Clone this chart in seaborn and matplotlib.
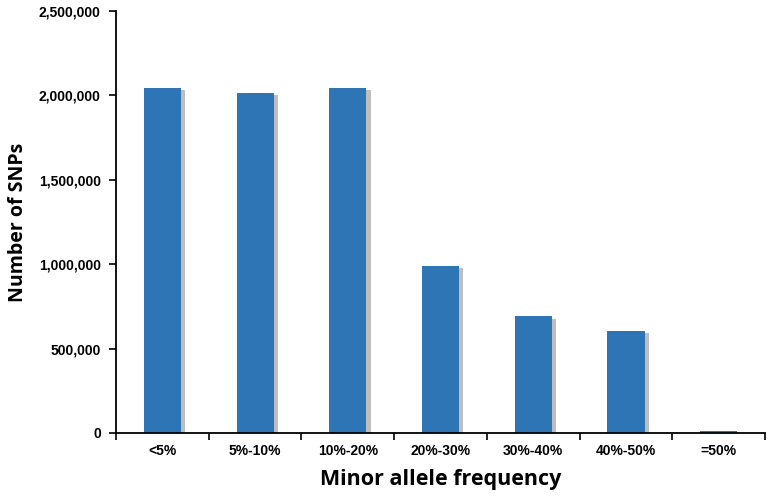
import numpy as np
import pandas as pd
import matplotlib
matplotlib.use("Agg")
import matplotlib.pyplot as plt
import matplotlib.patheffects as pe
from matplotlib.ticker import FuncFormatter, FixedLocator
import seaborn as sns

categories = ["<5%", "5%-10%", "10%-20%", "20%-30%", "30%-40%", "40%-50%", "=50%"]
snp_counts = [2043000, 2015000, 2043000, 992000, 690000, 606000, 12000]

df = pd.DataFrame({"maf": categories, "count": snp_counts})

sns.set_style("white")
plt.rcParams["font.family"] = ["Liberation Sans", "DejaVu Sans"]
plt.rcParams["text.color"] = "black"
plt.rcParams["axes.labelcolor"] = "black"
plt.rcParams["xtick.color"] = "black"
plt.rcParams["ytick.color"] = "black"

fig = plt.figure(figsize=(7.72, 4.97), dpi=100)
ax = fig.add_axes([0.1503, 0.1288, 0.8407, 0.8492])

sns.barplot(data=df, x="maf", y="count", color="#2E75B6", width=0.4,
            saturation=1, linewidth=0, ax=ax)
for bar in ax.patches:
    bar.set_path_effects([pe.SimplePatchShadow(offset=(3, -1.5), shadow_rgbFace="#707070", alpha=0.45),
                          pe.Normal()])

ax.set_ylim(0, 2500000)
ax.set_xlim(-0.5, 6.5)
ax.set_yticks(np.arange(0, 2500001, 500000))
ax.yaxis.set_major_formatter(FuncFormatter(lambda v, p: f"{int(v):,}"))

# category boundary ticks, labels in the middle
ax.xaxis.set_major_locator(FixedLocator(np.arange(-0.5, 7, 1)))
ax.xaxis.set_minor_locator(FixedLocator(np.arange(0, 7)))
ax.set_xticklabels([])
ax.set_xticklabels(categories, minor=True)
ax.tick_params(axis="x", which="major", direction="out", length=5, width=1.2, color="black", bottom=True)
ax.tick_params(axis="x", which="minor", length=0, pad=8)
ax.tick_params(axis="y", direction="out", length=5, width=1.2, color="black", left=True, pad=6)

for lab in ax.get_yticklabels() + ax.get_xticklabels(minor=True):
    lab.set_fontweight("bold")
    lab.set_fontsize(10)
    lab.set_color("black")

for s in ["top", "right"]:
    ax.spines[s].set_visible(False)
for s in ["left", "bottom"]:
    ax.spines[s].set_color("black")
    ax.spines[s].set_linewidth(1.3)

ax.set_xlabel("Minor allele frequency", fontsize=15.5, fontweight="bold",
              family=["Open Sans", "DejaVu Sans"], labelpad=8, color="black")
ax.set_ylabel("Number of SNPs", fontsize=14, fontweight="bold",
              family=["Open Sans", "DejaVu Sans"], labelpad=8, color="black")

fig.savefig("out.png", dpi=100)
